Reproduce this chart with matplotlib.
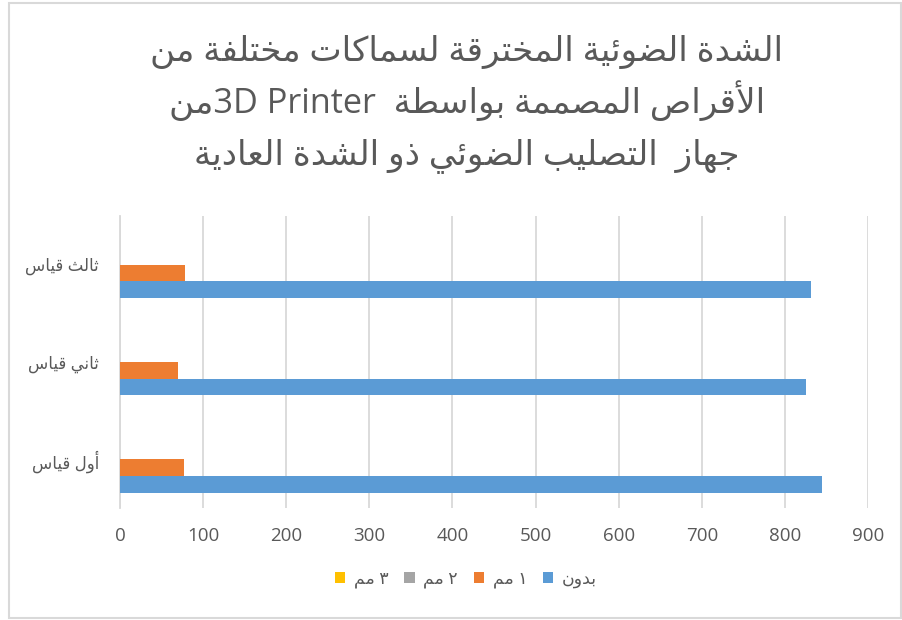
import re
import matplotlib
matplotlib.use('Agg')
from matplotlib import pyplot as plt
from matplotlib.patches import Rectangle

plt.rcParams['font.family'] = ['Open Sans', 'DejaVu Sans']

title_lines = ['الشدة الضوئية المخترقة لسماكات مختلفة من',
               'الأقراص المصممة بواسطة  3D Printerمن',
               'جهاز  التصليب الضوئي ذو الشدة العادية']
categories = ['أول قياس', 'ثاني قياس', 'ثالث قياس']
series_names = ['بدون', '١ مم', '٢ مم', '٣ مم']
bedoon = [845, 825, 832]
mm1 = [77, 70, 78]
mm2 = [0, 0, 0]
mm3 = [0, 0, 0]
series_values = [bedoon, mm1, mm2, mm3]
colors = ['#5B9BD5', '#ED7D31', '#A5A5A5', '#FFC000']
xticks = [0, 100, 200, 300, 400, 500, 600, 700, 800, 900]

# matplotlib has no arabic shaping, so do a small one by hand
AR_LETTERS = 'ءآأؤإئابةتثجحخدذرزسشصضطظعغفقكلمنهوىي'
AR_NFORMS = [1, 2, 2, 2, 2, 4, 2, 4, 2, 4, 4, 4, 4, 4, 2, 2, 2, 2,
             4, 4, 4, 4, 4, 4, 4, 4, 4, 4, 4, 4, 4, 4, 4, 2, 2, 4]
forms = {}
code = 0xFE80
for ch, n in zip(AR_LETTERS, AR_NFORMS):
    forms[ch] = [chr(code + k) for k in range(n)]
    code += n
lam_alef = {'آ': 0xFEF5, 'أ': 0xFEF7, 'إ': 0xFEF9, 'ا': 0xFEFB}


def jtype(u):
    if u[0] == 'LA':
        return 'R'
    if u[0] in forms:
        n = len(forms[u[0]])
        return 'D' if n == 4 else ('R' if n == 2 else 'U')
    return 'U'


def ar(text):
    units = []
    i = 0
    while i < len(text):
        if text[i] == 'ل' and i + 1 < len(text) and text[i + 1] in lam_alef:
            units.append(('LA', text[i + 1]))
            i += 2
        else:
            units.append((text[i], None))
            i += 1
    out = []
    for k, u in enumerate(units):
        t = jtype(u)
        pj = k > 0 and jtype(units[k - 1]) == 'D' and t != 'U'
        nj = k + 1 < len(units) and jtype(units[k + 1]) in ('D', 'R') and t == 'D'
        if u[0] == 'LA':
            out.append(chr(lam_alef[u[1]] + (1 if pj else 0)))
        elif t == 'U':
            out.append(u[0])
        else:
            f = forms[u[0]]
            out.append(f[3] if (pj and nj) else f[2] if nj else f[1] if pj else f[0])
    s = ''.join(out)[::-1]
    return re.sub(r'[A-Za-z0-9]+(?: +[A-Za-z0-9]+)*', lambda m: m.group(0)[::-1], s)


txt = '#595959'
grid = '#D9D9D9'

fig = plt.figure(figsize=(9.02, 6.2), dpi=100)
ax = fig.add_axes([120 / 902, 112 / 620, 748 / 902, 292 / 620])

h = 0.172
ypos = list(range(len(categories)))
for k, vals in enumerate(series_values):
    ax.barh([y + (k - 1.5) * h for y in ypos], vals, height=h,
            color=colors[k], linewidth=0, label=ar(series_names[k]), zorder=3)

ax.set_xlim(0, 900)
ax.set_ylim(-0.5, 2.5)
ax.set_xticks(xticks)
ax.set_xticklabels([str(v) for v in xticks])
ax.set_yticks(ypos)
ax.set_yticklabels([ar(c) for c in categories], fontsize=12)
ax.tick_params(axis='x', length=0, pad=14, labelsize=13.5, colors=txt)
ax.tick_params(axis='y', length=0, pad=15, colors=txt)
ax.grid(axis='x', color=grid, linewidth=1.3, zorder=0)
for s in ['top', 'right', 'bottom']:
    ax.spines[s].set_visible(False)
ax.spines['left'].set_color(grid)
ax.spines['left'].set_linewidth(1.3)

handles, labels = ax.get_legend_handles_labels()
fig.legend(handles[::-1], labels[::-1], loc='center', bbox_to_anchor=(466 / 902, 40 / 620),
           ncol=4, frameon=False, fontsize=12.5, handlelength=0.6, handleheight=0.6,
           handletextpad=0.5, columnspacing=0.9, labelcolor=txt)

ty = [61, 113, 164]
for line, y in zip(title_lines, ty):
    fig.text(467 / 902, 1 - y / 620, ar(line), ha='center', va='baseline',
             fontsize=24.7, color=txt)

fig.add_artist(Rectangle((9 / 902, 2 / 620), 892 / 902, 615 / 620, transform=fig.transFigure,
                         fill=False, edgecolor=grid, linewidth=1.5))

fig.savefig('out.png', dpi=100)
